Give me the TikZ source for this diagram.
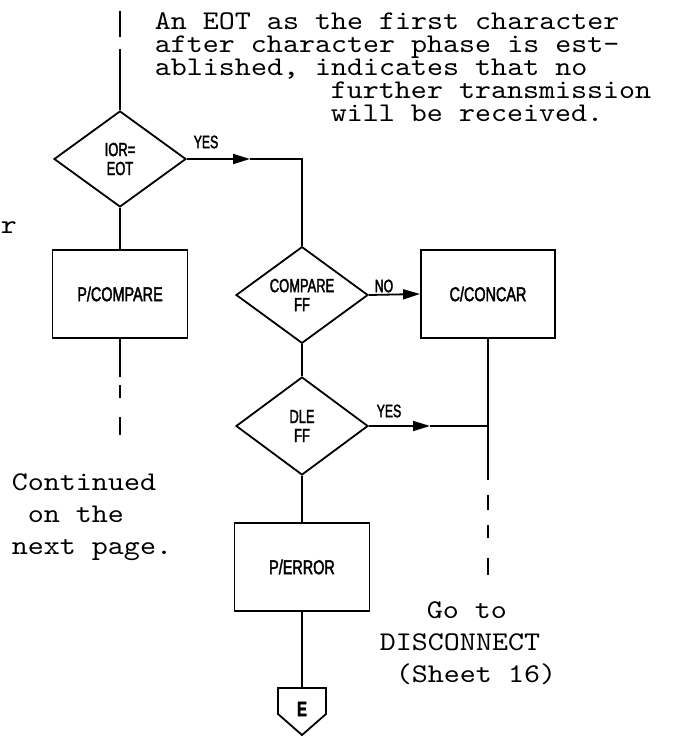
\documentclass[tikz,border=0pt]{standalone}
\usepackage{fontspec}
\usetikzlibrary{shapes.geometric,arrows.meta}
\newfontfamily\flowfont[FakeStretch=0.72,FakeBold=2]{Liberation Sans}
\newfontfamily\flowdfont[FakeStretch=0.68,FakeBold=2]{Liberation Sans}
\newfontfamily\typew[FakeStretch=1.13]{lmmono10-regular.otf}
\begin{document}
\begin{tikzpicture}[x=1pt,y=-1pt,line width=1.8pt,
  dec/.style={diamond,draw,minimum width=132pt,minimum height=96pt,inner sep=0pt,align=center,
    font=\flowdfont\fontsize{19}{19}\selectfont},
  procbox/.style={rectangle,draw,minimum width=135pt,minimum height=88pt,inner sep=0pt,
    font=\flowfont\fontsize{20}{20}\selectfont},
  lbl/.style={inner sep=0pt,font=\flowdfont\fontsize{18}{18}\selectfont},
  note/.style={inner sep=0pt,anchor=base west,font=\typew\fontsize{27}{32}\selectfont},
  arr/.style={-{Triangle[length=17pt,width=10pt]}}]
\useasboundingbox (0,0) rectangle (673,738);

% notes
\node[note,align=left,font=\typew\fontsize{27}{23}\selectfont] (nt) at (154,122)
  {An EOT as the first character\\after character phase is est-\\ablished, indicates that no\\
   \hspace*{176pt}further transmission\\\hspace*{176pt}will be received.};
\node[note] (nr) at (0,233) {r};
\node[note] (c1) at (11,490) {Continued};
\node[note] (c2) at (27,522) {on the};
\node[note] (c3) at (11,554) {next page.};
\node[note] (g1) at (426,618) {Go to};
\node[note] (g2) at (379,650) {DISCONNECT};
\node[note] (g3) at (395,682) {(Sheet 16)};

% flow nodes
\node[dec] (d1) at (120,159) {IOR=\\EOT};
\node[procbox] (b1) at (120,294) {P/COMPARE};
\node[dec] (d2) at (302,295) {COMPARE\\FF};
\node[procbox,minimum width=134pt] (b2) at (488,294) {C/CONCAR};
\node[dec,minimum height=98pt] (d3) at (302,426) {DLE\\FF};
\node[procbox] (b3) at (302,567) {P/ERROR};

% labels
\node[lbl] (y1) at (206,142) {YES};
\node[lbl] (no) at (384,286) {NO};
\node[lbl] (y2) at (389,411) {YES};

% top entry
\coordinate (t0) at (120,11);
\coordinate (t1) at (120,37);
\coordinate (t2) at (120,49);
\draw (t0) -- (t1);
\draw (t2) -- (d1.north);

% IOR=EOT yes branch
\coordinate (a1) at (250,159);
\coordinate (j1) at (302,159);
\draw[arr] (d1.east) -- (a1);
\draw (a1) -- (j1) -- (d2.north);

% left column
\draw (d1.south) -- (b1.north);
\coordinate (l1) at (120,377);
\coordinate (l2) at (120,385);
\coordinate (l3) at (120,398);
\coordinate (l4) at (120,417);
\coordinate (l5) at (120,435);
\draw (b1.south) -- (l1);
\draw (l2) -- (l3);
\draw (l4) -- (l5);

% compare ff
\draw[arr] (d2.east) -- (b2.west);
\draw (d2.south) -- (d3.north);

% DLE FF yes
\coordinate (a2) at (430,426);
\coordinate (j2) at (488,426);
\draw[arr] (d3.east) -- (a2);
\draw (a2) -- (j2);

% right column
\coordinate (r1) at (488,480);
\coordinate (r2) at (488,495);
\coordinate (r3) at (488,510);
\coordinate (r4) at (488,525);
\coordinate (r5) at (488,538);
\coordinate (r6) at (488,558);
\coordinate (r7) at (488,575);
\draw (b2.south) -- (r1);
\draw (r2) -- (r3);
\draw (r4) -- (r5);
\draw (r6) -- (r7);

% P/ERROR and off-page connector
\draw (d3.south) -- (b3.north);
\coordinate (ct) at (302,688);
\draw (b3.south) -- (ct);
\draw[line join=miter] (278,688) -- (326,688) -- (326,714) -- (302,735) -- (278,714) -- cycle;
\node[inner sep=0pt,font=\flowfont\bfseries\fontsize{21}{22}\selectfont] (ce) at (302,709) {E};
\end{tikzpicture}
\end{document}
